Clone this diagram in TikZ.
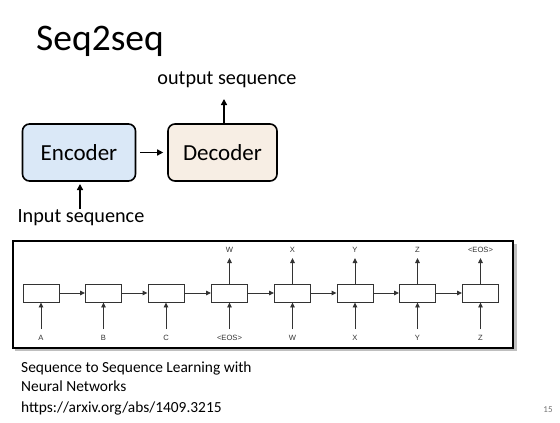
\documentclass[tikz,border=0pt]{standalone}
\usepackage{fontspec}
\setmainfont{Carlito}
\newfontfamily\smallsans{Liberation Sans}
\usetikzlibrary{arrows.meta,positioning}
\begin{document}
\begin{tikzpicture}[x=1pt,y=-1pt,
  bigbox/.style={draw=black,line width=1.6pt,rounded corners=7pt,minimum width=113pt,minimum height=57pt,inner sep=0pt,font=\fontsize{23}{26}\selectfont},
  bigarrow/.style={line width=1.6pt,-{Triangle[length=6pt,width=6pt]}},
  cell/.style={draw=black!80,line width=0.9pt,minimum width=36pt,minimum height=18pt,inner sep=0pt},
  cellarrow/.style={draw=black!80,line width=0.9pt,-{Triangle[length=5pt,width=4.5pt]}},
  lbl/.style={font=\smallsans\fontsize{7.6}{8}\selectfont,text=black!80,inner sep=0pt},
  txt/.style={inner sep=0pt,anchor=west}
]
\useasboundingbox (0,0) rectangle (560,423);
\fill[white] (0,0) rectangle (560,423);
% title
\node[txt,font=\fontsize{37.5}{40}\selectfont] (title) at (36,41) {Seq2seq};
% top diagram
\node[bigbox,fill={rgb,255:red,218;green,232;blue,247}] (enc) at (79,152.5) {Encoder};
\node[bigbox,fill={rgb,255:red,247;green,238;blue,228},minimum width=109pt] (dec) at (222.5,152.5) {Decoder};
\draw[bigarrow] ([xshift=4pt]enc.east) -- ([xshift=-4pt]dec.west);
\node[inner sep=0pt,font=\fontsize{20.2}{22}\selectfont] (out) at (227,80) {output sequence};
\node[inner sep=0pt,font=\fontsize{20.2}{22}\selectfont] (in) at (81,218) {Input sequence};
\coordinate (dtop) at (224,123);
\coordinate (otop) at (224,99);
\draw[bigarrow] (dtop) -- (otop);
\coordinate (ibot) at (80,209);
\coordinate (etop) at (80,184);
\draw[bigarrow] (ibot) -- (etop);
% bottom frame
\fill[black!25] (15,244) rectangle (517,351);
\draw[line width=2pt,fill=white] (13,241) rectangle (513,348);
% cells
\foreach \i/\x/\inp in {1/41/A,2/103.5/B,3/166/C,4/229.5/<EOS>,5/292.5/W,6/355/X,7/417.5/Y,8/480.5/Z}{
  \node[cell] (c\i) at (\x,293) {};
  \node[lbl] (in\i) at (\x,338) {\inp};
  \coordinate (ib\i) at (\x,329);
  \draw[cellarrow] (ib\i) -- (c\i.south);
}
\foreach \i/\outp in {4/W,5/X,6/Y,7/Z,8/<EOS>}{
  \node[lbl] (out\i) at (c\i |- 0,250) {\outp};
  \coordinate (ot\i) at (c\i |- 0,258);
  \draw[cellarrow] (c\i.north) -- (ot\i);
}
\foreach \i/\j in {1/2,2/3,3/4,4/5,5/6,6/7,7/8}{
  \draw[cellarrow] (c\i.east) -- (c\j.west);
}
% bottom text
\node[txt,font=\fontsize{15.4}{18}\selectfont] (ref1) at (21,368) {Sequence to Sequence Learning with};
\node[txt,font=\fontsize{15.4}{18}\selectfont] (ref2) at (21,386) {Neural Networks};
\node[txt,font=\fontsize{15.4}{18}\selectfont] (ref3) at (21,408) {https://arxiv.org/abs/1409.3215};
\node[inner sep=0pt,font=\fontsize{9}{10}\selectfont,text=black!55] (pg) at (548,410) {15};
\end{tikzpicture}
\end{document}
